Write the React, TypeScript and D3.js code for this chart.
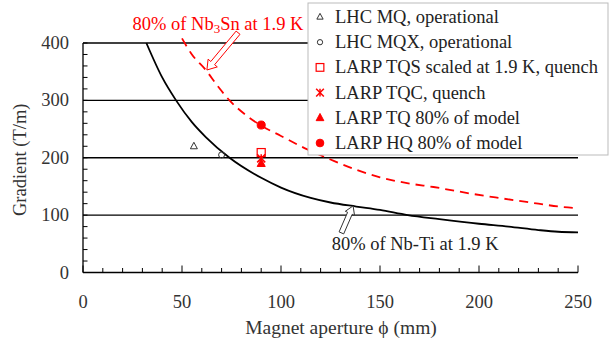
import * as d3 from 'd3'

// Nb-Ti 80% curve at 1.9 K (aperture mm, gradient T/m)
const nbtiAperture = [32, 40, 47, 55, 62, 74, 90, 100, 115, 125, 138, 150, 164, 180, 200, 215, 230, 240, 250]
const nbtiGradient = [400, 340, 300, 262, 236, 200, 165, 148, 130, 122, 115, 109, 100, 93, 85, 80, 74, 71, 70]

// Nb3Sn 80% curve at 1.9 K
const nb3snAperture = [50, 55, 62, 68, 74, 82, 90, 100, 113, 125, 138, 150, 165, 177, 195, 210, 230, 240, 250]
const nb3snGradient = [408, 380, 353, 325, 300, 275, 256, 238, 215, 197, 179, 166, 155, 149, 138, 130, 120, 115, 112]

const legendLabels = [
  'LHC MQ, operational',
  'LHC MQX, operational',
  'LARP TQS scaled at 1.9 K, quench',
  'LARP TQC, quench',
  'LARP TQ 80% of model',
  'LARP HQ 80% of model',
]
const markerShapes = ['triOpen', 'circOpen', 'square', 'cross', 'triFill', 'circFill']
const markerColors = ['#333', '#333', '#ff0000', '#ff0000', '#ff0000', '#ff0000']
const pointAperture = [56, 70, 90, 90, 90, 90]
const pointGradient = [220, 205, 209, 199, 190, 257]

const xTicks = [0, 50, 100, 150, 200, 250]
const yTicks = [0, 100, 200, 300, 400]

const W = 613
const H = 345
const margin = { left: 83, right: 35, top: 43, bottom: 72.5 }
const FONT = "'Liberation Serif', 'DejaVu Serif', 'Times New Roman', serif"
const FS = 18.5

function Marker({ shape, x, y, color, s = 1 }: { shape: string; x: number; y: number; color: string; s?: number }) {
  const r = 3.5 * s
  if (shape === 'triOpen' || shape === 'triFill') {
    const pts = `${x},${y - r - 0.5} ${x - r},${y + r - 1} ${x + r},${y + r - 1}`
    return <polygon points={pts} fill={shape === 'triFill' ? color : 'none'} stroke={color} strokeWidth={1} />
  }
  if (shape === 'circOpen' || shape === 'circFill') {
    return <circle cx={x} cy={y} r={shape === 'circFill' ? r : r - 0.5} fill={shape === 'circFill' ? color : 'none'} stroke={color} strokeWidth={1} />
  }
  if (shape === 'square') {
    return <rect x={x - r} y={y - r} width={2 * r} height={2 * r} fill="none" stroke={color} strokeWidth={1.2} />
  }
  return (
    <g stroke={color} strokeWidth={1.5}>
      <line x1={x - r} y1={y - r} x2={x + r} y2={y + r} />
      <line x1={x - r} y1={y + r} x2={x + r} y2={y - r} />
      <line x1={x} y1={y - r} x2={x} y2={y + r} />
    </g>
  )
}

// hollow block arrow from tail to tip, in pixels
function blockArrow(x0: number, y0: number, x1: number, y1: number, shaft: number, headW: number, headL: number) {
  const dx = x1 - x0
  const dy = y1 - y0
  const len = Math.hypot(dx, dy)
  const ux = dx / len
  const uy = dy / len
  const nx = -uy
  const ny = ux
  const bx = x1 - ux * headL
  const by = y1 - uy * headL
  const p = (x: number, y: number) => `${x.toFixed(1)},${y.toFixed(1)}`
  return [
    p(x0 + nx * shaft, y0 + ny * shaft),
    p(bx + nx * shaft, by + ny * shaft),
    p(bx + nx * headW, by + ny * headW),
    p(x1, y1),
    p(bx - nx * headW, by - ny * headW),
    p(bx - nx * shaft, by - ny * shaft),
    p(x0 - nx * shaft, y0 - ny * shaft),
  ].join(' ')
}

export default function App() {
  const x = d3.scaleLinear().domain([0, 250]).range([margin.left, W - margin.right])
  const y = d3.scaleLinear().domain([0, 400]).range([H - margin.bottom, margin.top])

  const line = d3
    .line<[number, number]>()
    .x(d => x(d[0]))
    .y(d => y(d[1]))
    .curve(d3.curveMonotoneX)

  const nbti = nbtiAperture.map((a, i) => [a, nbtiGradient[i]] as [number, number])
  const nb3sn = nb3snAperture.map((a, i) => [a, nb3snGradient[i]] as [number, number])

  const x0 = x(0)
  const y0 = y(0)

  const legendX = 308
  const legendY = 3

  return (
    <svg width={W} height={H} style={{ position: 'absolute', left: 0, top: 0, background: '#fff', fontFamily: FONT }}>
      {/* grid lines */}
      {yTicks.filter(t => t > 0).map(t => (
        <line key={t} x1={x0} x2={x(250)} y1={y(t)} y2={y(t)} stroke="#000" strokeWidth={1.3} />
      ))}
      {/* axes */}
      <line x1={x0} x2={x0} y1={y(400)} y2={y0} stroke="#000" strokeWidth={1.3} />
      <line x1={x0} x2={x(250)} y1={y0} y2={y0} stroke="#000" strokeWidth={1.3} />
      {d3.range(0, 401, 20).map(t => (
        <line key={'yt' + t} x1={x0} x2={x0 + 4.5} y1={y(t)} y2={y(t)} stroke="#000" strokeWidth={1} />
      ))}
      {d3.range(0, 251, 10).map(t => (
        <line key={'xt' + t} x1={x(t)} x2={x(t)} y1={y0} y2={y0 - (t % 50 === 0 ? 7 : 4.5)} stroke="#000" strokeWidth={1} />
      ))}
      {yTicks.map(t => (
        <text key={'yl' + t} x={x0 - 14} y={y(t) + 6} textAnchor="end" fontSize={FS} fill="#333">{t}</text>
      ))}
      {xTicks.map(t => (
        <text key={'xl' + t} x={x(t)} y={y0 + 35} textAnchor="middle" fontSize={FS} fill="#333">{t}</text>
      ))}
      <text transform={`translate(26,${y(200) + 2}) rotate(-90)`} textAnchor="middle" fontSize={FS} fill="#333">Gradient (T/m)</text>
      <text x={341} y={334} textAnchor="middle" fontSize={19.5} fill="#333">Magnet aperture ϕ (mm)</text>

      {/* curves */}
      <path d={line(nb3sn) ?? ''} fill="none" stroke="#ff0000" strokeWidth={1.8} strokeDasharray="9 6" />
      <path d={line(nbti) ?? ''} fill="none" stroke="#000" strokeWidth={1.8} />

      {/* data points */}
      {pointAperture.map((a, i) => (
        <Marker key={'p' + i} shape={markerShapes[i]} x={x(a)} y={y(pointGradient[i])} color={markerColors[i]} s={i >= 2 ? 1.15 : 1} />
      ))}

      {/* annotations */}
      <polygon points={blockArrow(x(78.3), y(418), x(62.6), y(353), 2.5, 6, 9)} fill="#fff" stroke="#ff0000" strokeWidth={1} />
      <text x={x(25)} y={y(422)} fontSize={FS} fill="#ff0000">
        80% of Nb<tspan fontSize={13} dy={3}>3</tspan><tspan dy={-3}>Sn at 1.9 K</tspan>
      </text>
      <polygon points={blockArrow(x(130.5), y(69), x(136.4), y(116), 2.5, 5, 8)} fill="#fff" stroke="#333" strokeWidth={1} />
      <text x={x(125.6)} y={y(39)} fontSize={FS} fill="#222">80% of Nb-Ti at 1.9 K</text>

      {/* legend */}
      <rect x={legendX} y={legendY} width={300} height={152} fill="#fff" stroke="#bbb" strokeWidth={1} />
      {legendLabels.map((lab, i) => (
        <g key={'lg' + i}>
          <Marker shape={markerShapes[i]} x={legendX + 12} y={legendY + 14 + i * 25.2} color={markerColors[i]} s={i >= 2 ? 1.1 : 0.9} />
          <text x={legendX + 27} y={legendY + 20 + i * 25.2} fontSize={FS} fill="#222">{lab}</text>
        </g>
      ))}
    </svg>
  )
}
